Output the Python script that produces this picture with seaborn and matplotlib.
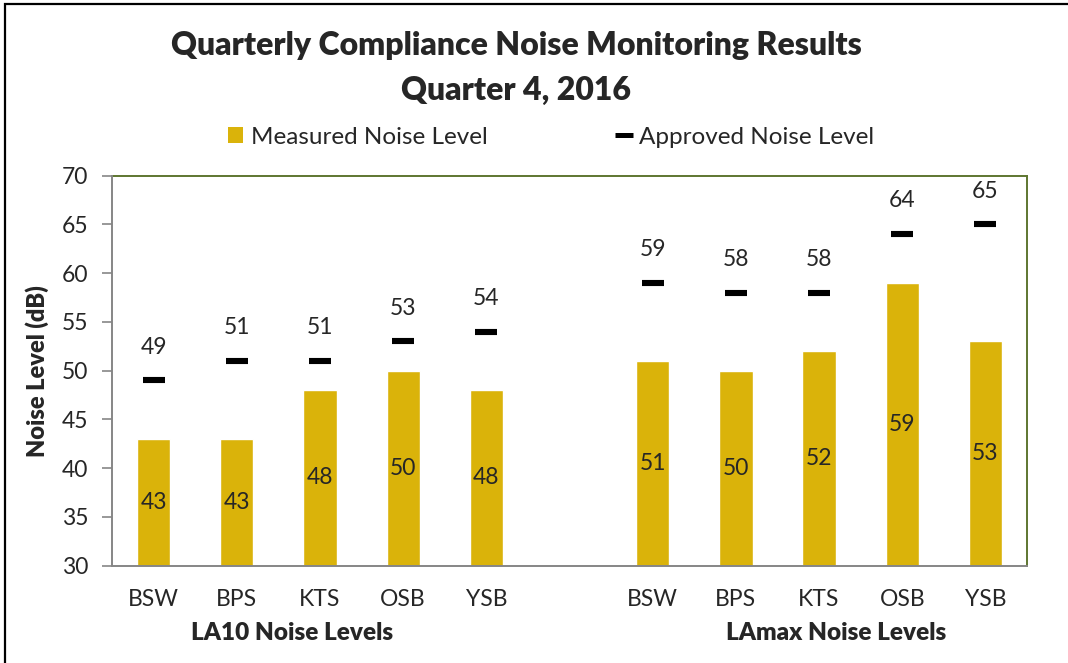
import matplotlib
matplotlib.use("Agg")
import matplotlib.pyplot as plt
import seaborn as sns
import pandas as pd
from matplotlib.patches import Patch, Rectangle
from matplotlib.lines import Line2D

# ---- data ----
sites = ["BSW", "BPS", "KTS", "OSB", "YSB"]
groups = ["LA10 Noise Levels", "LAmax Noise Levels"]
la10_measured = [43, 43, 48, 50, 48]
la10_approved = [49, 51, 51, 53, 54]
lamax_measured = [51, 50, 52, 59, 53]
lamax_approved = [59, 58, 58, 64, 65]
y_ticks = [30, 35, 40, 45, 50, 55, 60, 65, 70]
title_line1 = "Quarterly Compliance Noise Monitoring Results"
title_line2 = "Quarter 4, 2016"

GOLD = "#DAB30A"
FONT = "Lato"
FS = 16.5
FS_L = 17.5

sns.set_style("white")
plt.rcParams["font.family"] = [FONT, "DejaVu Sans"]

rows = []
for g, meas, appr in [(groups[0], la10_measured, la10_approved),
                      (groups[1], lamax_measured, lamax_approved)]:
    for s, m, a in zip(sites, meas, appr):
        rows.append({"slot": f"{g}|{s}", "site": s, "measured": m, "approved": a})
df = pd.DataFrame(rows)
order = [f"{groups[0]}|{s}" for s in sites] + ["gap"] + [f"{groups[1]}|{s}" for s in sites]

fig = plt.figure(figsize=(10.68, 6.63), dpi=100)
ax = fig.add_axes([112/1068, 1-565.7/663, (1027-112)/1068, (565.7-175.7)/663])

sns.barplot(data=df, x="slot", y="measured", order=order, color=GOLD,
            saturation=1, width=0.4, ax=ax, errorbar=None)
sns.pointplot(data=df, x="slot", y="approved", order=order, color="black",
              markers="_", linestyles="none", errorbar=None, ax=ax,
              markersize=16, markeredgewidth=4.4)

ax.set_ylim(30, 70)
ax.set_xlim(-0.5, len(order) - 0.5)
ax.set_yticks(y_ticks)
ax.set_yticklabels([str(t) for t in y_ticks], fontsize=FS)

labels = [k.split("|")[1] if "|" in k else "" for k in order]
ax.set_xticks(range(len(order)))
ax.set_xticklabels(labels, fontsize=FS)
ax.set_xticks([i - 0.5 for i in range(len(order) + 1)], minor=True)
ax.tick_params(axis="x", which="major", length=0, pad=17)
ax.tick_params(axis="x", which="minor", length=7, width=1.2, color="#868686", direction="out")
ax.tick_params(axis="y", which="major", length=7, width=1.2, color="#868686",
               direction="out", pad=10, left=True)
ax.set_xlabel("")
ax.set_ylabel("Noise Level (dB)", fontsize=17, fontweight="heavy", labelpad=9)

for side in ["left", "bottom"]:
    ax.spines[side].set_color("#868686")
    ax.spines[side].set_linewidth(1.4)
for side in ["top", "right"]:
    ax.spines[side].set_color("#5E7630")
    ax.spines[side].set_linewidth(1.4)
ax.spines["left"].set_zorder(5)
ax.spines["bottom"].set_zorder(5)

ymin = ax.get_ylim()[0]
for i, key in enumerate(order):
    sub = df[df["slot"] == key]
    if sub.empty:
        continue
    m = sub["measured"].iloc[0]
    a = sub["approved"].iloc[0]
    ax.text(i, (ymin + m) / 2, str(m), ha="center", va="center", fontsize=FS)
    ax.annotate(str(a), (i, a), xytext=(0, 24), textcoords="offset points",
                ha="center", va="center", fontsize=FS)

ax.text(0.197, -0.172, groups[0], transform=ax.transAxes, ha="center", va="center",
        fontsize=FS_L, fontweight="heavy")
ax.text(0.791, -0.172, groups[1], transform=ax.transAxes, ha="center", va="center",
        fontsize=FS_L, fontweight="heavy")

fig.text(516/1068, 1-45/663, title_line1, ha="center", va="center", fontsize=23, fontweight="heavy")
fig.text(516/1068, 1-90/663, title_line2, ha="center", va="center", fontsize=23, fontweight="heavy")

handles = [Patch(facecolor=GOLD, edgecolor="none", label="Measured Noise Level"),
           Line2D([], [], color="black", linestyle="none", marker="_", markersize=12.5,
                  markeredgewidth=3.6, label="Approved Noise Level")]
fig.legend(handles=handles, loc="center", bbox_to_anchor=(551/1068, 1-137/663), ncol=2,
           frameon=False, fontsize=FS_L, handlelength=0.62, handleheight=0.62,
           handletextpad=0.3, columnspacing=5.3)

fig.patches.append(Rectangle((5/1068, -0.05), 1.2, 1.05 - 4/663, transform=fig.transFigure,
                             fill=False, edgecolor="black", linewidth=1.6))

fig.savefig("out.png", dpi=100)
